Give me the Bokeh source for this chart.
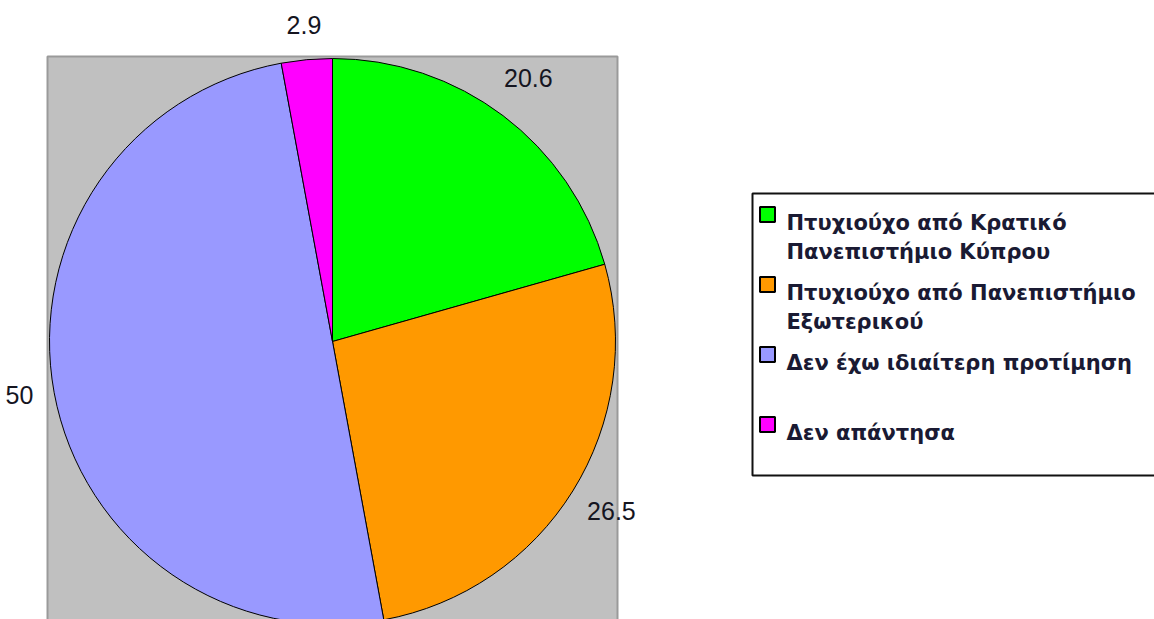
import math
from bokeh.plotting import figure
from bokeh.models import Range1d, ColumnDataSource
from bokeh.core.properties import value
from bokeh.embed import file_html
from bokeh.resources import INLINE

# ---- data ----
categories = [
    "Πτυχιούχο από Κρατικό\nΠανεπιστήμιο Κύπρου",
    "Πτυχιούχο από Πανεπιστήμιο\nΕξωτερικού",
    "Δεν έχω ιδιαίτερη προτίμηση",
    "Δεν απάντησα",
]
values = [20.6, 26.5, 50.0, 2.9]
value_labels = ["20.6", "26.5", "50", "2.9"]
colors = ["#00ff00", "#ff9900", "#9999ff", "#ff00ff"]

# ---- layout (screen-like coordinates, y = -pixel row) ----
W, H = 1154, 619
p = figure(width=W, height=H, output_backend="svg", toolbar_location=None,
           x_range=Range1d(0, W), y_range=Range1d(-H, 0),
           x_axis_type=None, y_axis_type=None, min_border=0)
p.grid.visible = False
p.outline_line_color = None
p.background_fill_color = "white"
p.border_fill_color = "white"

# plot area background
p.quad(left=[47], right=[617], top=[-56], bottom=[-650],
       fill_color="#c0c0c0", line_color="#9a9a9a", line_width=2)

cx, cy, r = 332, -341, 283
total = sum(values)
starts, ends, mids = [], [], []
cum = 0.0
for v in values:
    a0 = math.pi / 2 - 2 * math.pi * cum / total
    cum += v
    a1 = math.pi / 2 - 2 * math.pi * cum / total
    starts.append(a0)
    ends.append(a1)
    mids.append((a0 + a1) / 2)

src = ColumnDataSource(dict(start=starts, end=ends, color=colors,
                            x=[cx] * len(values), y=[cy] * len(values)))
p.wedge(x="x", y="y", radius=r, start_angle="start", end_angle="end",
        direction="clock", fill_color="color", line_color="black",
        line_width=1, source=src)

# value labels: placed just outside the pie at each slice's mid-angle
fs = 25
lab_R = 303
lx, ly = [], []
for m, t in zip(mids, value_labels):
    tw = sum(0.278 if ch == "." else 0.556 for ch in t) * fs
    th = 0.72 * fs
    extra = tw / 2 * abs(math.cos(m)) + th / 2 * abs(math.sin(m))
    lx.append(cx + (lab_R + extra) * math.cos(m))
    ly.append(cy + (lab_R + extra) * math.sin(m) + 4)
p.text(x=lx, y=ly, text=value_labels, text_align="center",
       text_baseline="middle", text_font=value("Liberation Sans"),
       text_font_size=f"{fs}px", text_color="#15151f")

# legend (drawn manually)
p.quad(left=[752], right=[1175], top=[-193], bottom=[-475],
       fill_color="white", line_color="#111111", line_width=2)
y0, step, lh = 222, 70, 29.5
sq_x, sq_y, tx, ty, tt = [], [], [], [], []
for i, lab in enumerate(categories):
    base = y0 + i * step
    sq_x.append(767)
    sq_y.append(-(base - 8))
    for j, line in enumerate(lab.split("\n")):
        tx.append(786)
        ty.append(-(base + j * lh))
        tt.append(line)
p.scatter(x=sq_x, y=sq_y, marker="square", size=15, fill_color=colors,
          line_color="black", line_width=2)
p.text(x=tx, y=ty, text=tt, text_align="left", text_baseline="alphabetic",
       text_font=value("DejaVu Sans"), text_font_style="bold",
       text_font_size="21px", text_color="#1a1a33")

open("out.html", "w").write(file_html(p, INLINE))
